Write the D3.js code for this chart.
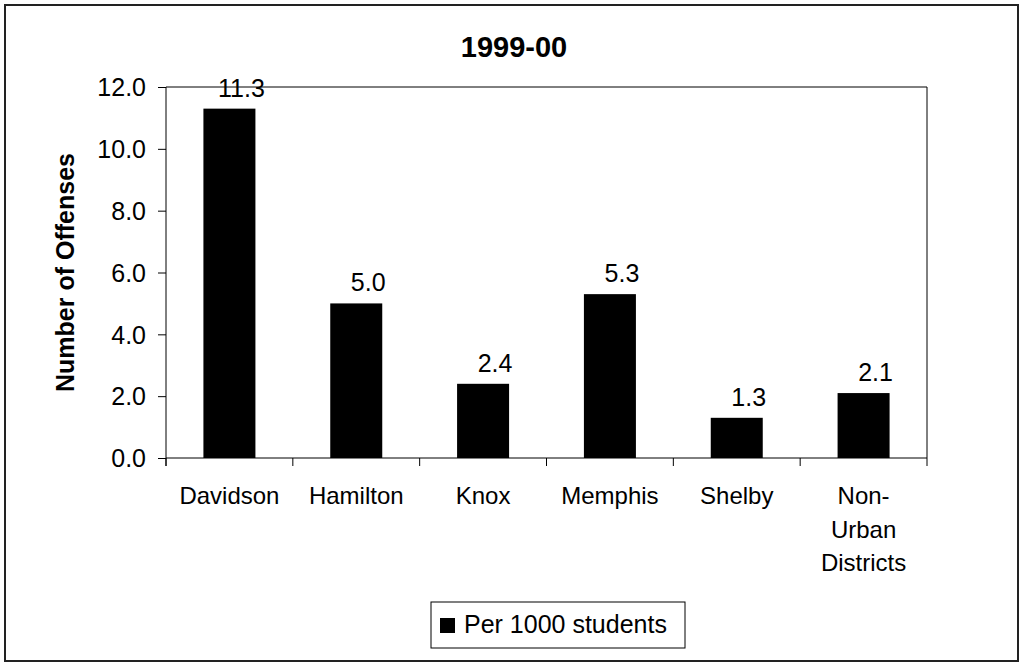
<!DOCTYPE html>
<html>
<head>
<meta charset="utf-8">
<script src="https://cdn.jsdelivr.net/npm/d3@7"></script>
<style>
  body { margin: 0; background: #fff; }
  text { font-family: Arial, "Liberation Sans", sans-serif; fill: #000; }
</style>
</head>
<body>
<div id="vis"></div>
<script>
// chart data
var districts = ['Davidson', 'Hamilton', 'Knox', 'Memphis', 'Shelby', 'Non-Urban Districts'];
var perThousand = [11.3, 5.0, 2.4, 5.3, 1.3, 2.1];
var yTicks = [0, 2, 4, 6, 8, 10, 12];
var seriesName = 'Per 1000 students';
var chartTitle = '1999-00';
var yTitle = 'Number of Offenses';

var width = 1022;
var height = 663;
var margin = { top: 87, left: 166, bottom: 205, right: 95 };
var plotW = width - margin.left - margin.right;
var plotH = height - margin.top - margin.bottom;

var svg = d3.select('#vis').append('svg')
  .attr('width', width)
  .attr('height', height);

// outer frame
svg.append('rect')
  .attr('x', 5).attr('y', 5)
  .attr('width', 1013).attr('height', 656)
  .attr('fill', '#fff')
  .attr('stroke', '#222')
  .attr('stroke-width', 2);

var g = svg.append('g')
  .attr('transform', 'translate(' + margin.left + ',' + margin.top + ')');

var x = d3.scaleBand()
  .domain(districts)
  .range([0, plotW])
  .padding(0);

var y = d3.scaleLinear()
  .domain([0, 12])
  .range([plotH, 0]);

var barW = x.bandwidth() * 0.41;

// plot area border (top + right)
g.append('path')
  .attr('d', 'M0,0H' + plotW + 'V' + plotH)
  .attr('fill', 'none')
  .attr('stroke', '#000')
  .attr('stroke-width', 1);

// bars
g.selectAll('.bar').data(perThousand)
  .enter().append('rect')
  .attr('class', 'bar')
  .attr('x', function (d, i) { return x(districts[i]) + (x.bandwidth() - barW) / 2; })
  .attr('y', function (d) { return y(d); })
  .attr('width', barW)
  .attr('height', function (d) { return plotH - y(d); })
  .attr('fill', '#000');

// value labels
g.selectAll('.bar-text').data(perThousand)
  .enter().append('text')
  .attr('class', 'bar-text')
  .attr('x', function (d, i) { return x(districts[i]) + x.bandwidth() / 2 + 12; })
  .attr('y', function (d) { return y(d) - 12; })
  .attr('text-anchor', 'middle')
  .style('font-size', '25px')
  .text(function (d) { return d.toFixed(1); });

// y axis
var yAxis = d3.axisLeft(y)
  .tickValues(yTicks)
  .tickSize(8)
  .tickPadding(12)
  .tickFormat(d3.format('.1f'));

var ya = g.append('g').attr('class', 'y axis').call(yAxis);
ya.select('.domain').remove();
ya.selectAll('text').style('font-size', '25px').attr('dy', '0.35em');
ya.selectAll('line').attr('stroke', '#000');

g.append('line')
  .attr('x1', 0).attr('x2', 0)
  .attr('y1', 0).attr('y2', plotH + 8)
  .attr('stroke', '#000');

// x axis
g.append('line')
  .attr('x1', 0).attr('x2', plotW)
  .attr('y1', plotH).attr('y2', plotH)
  .attr('stroke', '#000');

var bounds = districts.map(function (d) { return x(d); }).concat([plotW]);
g.selectAll('.x-tick').data(bounds)
  .enter().append('line')
  .attr('class', 'x-tick')
  .attr('x1', function (d) { return d; })
  .attr('x2', function (d) { return d; })
  .attr('y1', plotH).attr('y2', plotH + 8)
  .attr('stroke', '#000');

// category labels, wrapped like the original
var catLines = {
  'Non-Urban Districts': ['Non-', 'Urban', 'Districts']
};
var cat = g.selectAll('.cat').data(districts)
  .enter().append('text')
  .attr('class', 'cat')
  .attr('text-anchor', 'middle')
  .attr('y', plotH + 46)
  .style('font-size', '24px');

cat.each(function (d) {
  var lines = catLines[d] || [d];
  var t = d3.select(this);
  lines.forEach(function (l, k) {
    t.append('tspan')
      .attr('x', x(d) + x.bandwidth() / 2)
      .attr('dy', k === 0 ? 0 : 33.5)
      .text(l);
  });
});

// title
svg.append('text')
  .attr('x', 514)
  .attr('y', 57)
  .attr('text-anchor', 'middle')
  .style('font-size', '29px')
  .style('font-weight', 'bold')
  .text(chartTitle);

// y axis title
svg.append('text')
  .attr('transform', 'translate(74,' + (margin.top + plotH / 2) + ') rotate(-90)')
  .attr('text-anchor', 'middle')
  .style('font-size', '25px')
  .style('font-weight', 'bold')
  .text(yTitle);

// legend
var legend = svg.append('g').attr('transform', 'translate(431,602)');
legend.append('rect')
  .attr('width', 254).attr('height', 46)
  .attr('fill', '#fff')
  .attr('stroke', '#000')
  .attr('stroke-width', 1);
legend.append('rect')
  .attr('x', 9).attr('y', 16)
  .attr('width', 15).attr('height', 15)
  .attr('fill', '#000');
legend.append('text')
  .attr('x', 33).attr('y', 31)
  .style('font-size', '25px')
  .text(seriesName);
</script>
</body>
</html>
